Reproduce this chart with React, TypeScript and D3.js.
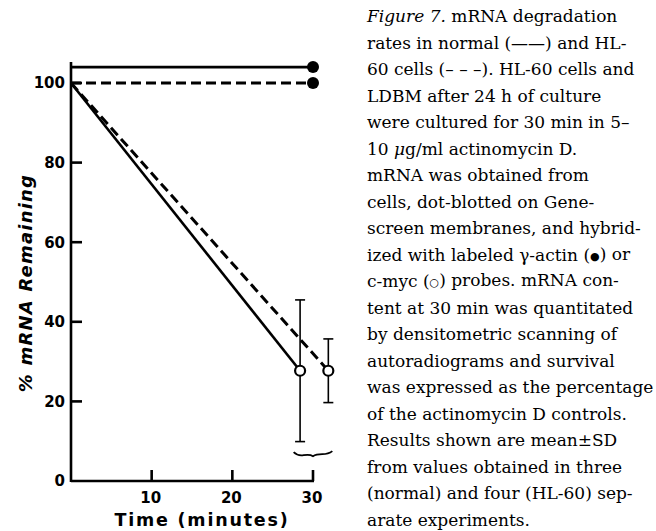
import React, { useEffect, useRef } from "react";
import * as d3 from "d3";

// axis ticks
const xTicks = [10, 20, 30];
const yTicks = [0, 20, 40, 60, 80, 100];

// gamma-actin (filled circles): normal (solid) and HL-60 (dashed)
const actinTimes = [0, 30];
const actinNormal = [104, 104];
const actinHL60 = [100, 100];

// c-myc (open circles), end points drawn a little apart around 30 min
const mycTimesNormal = [0, 28.4];
const mycNormal = [100, 27.7];
const mycSDNormal = [0, 17.8];
const mycTimesHL60 = [0, 31.9];
const mycHL60 = [100, 27.7];
const mycSDHL60 = [0, 8];

// "i:" = italic, "s:" = small symbol
const caption: string[][] = [
  ["i:Figure 7.", " mRNA degradation"],
  ["rates in normal (\u2014\u2014) and HL-"],
  ["60 cells (\u2013 \u2013 \u2013). HL-60 cells and"],
  ["LDBM after 24 h of culture"],
  ["were cultured for 30 min in 5\u2013"],
  ["10 ", "i:\u03bc", "g/ml actinomycin D."],
  ["mRNA was obtained from"],
  ["cells, dot-blotted on Gene-"],
  ["screen membranes, and hybrid-"],
  ["ized with labeled \u03b3-actin (", "s:\u25cf", ") or"],
  ["c-myc (", "s:\u25cb", ") probes. mRNA con-"],
  ["tent at 30 min was quantitated"],
  ["by densitometric scanning of"],
  ["autoradiograms and survival"],
  ["was expressed as the percentage"],
  ["of the actinomycin D controls."],
  ["Results shown are mean\u00b1SD"],
  ["from values obtained in three"],
  ["(normal) and four (HL-60) sep-"],
  ["arate experiments."],
];

const W = 656;
const H = 531;

export default function App() {
  const ref = useRef<SVGSVGElement>(null);

  useEffect(() => {
    const svg = d3.select(ref.current);
    svg.selectAll("*").remove();

    const x = d3.scaleLinear().domain([0, 30]).range([71, 313]);
    const y = d3.scaleLinear().domain([0, 100]).range([481, 83]);
    const yTop = 105.3;

    const g = svg.append("g");

    // axes
    g.append("line")
      .attr("x1", x(0)).attr("x2", x(0))
      .attr("y1", y(0) + 1).attr("y2", y(yTop))
      .attr("stroke", "#000").attr("stroke-width", 2.6);
    g.append("line")
      .attr("x1", x(0)).attr("x2", x(30) + 1)
      .attr("y1", y(0)).attr("y2", y(0))
      .attr("stroke", "#000").attr("stroke-width", 2.6);

    g.selectAll(".xt")
      .data(xTicks)
      .enter()
      .append("line")
      .attr("x1", (d) => x(d)).attr("x2", (d) => x(d))
      .attr("y1", y(0)).attr("y2", y(0) - 11)
      .attr("stroke", "#000").attr("stroke-width", 2.6);
    g.selectAll(".xl")
      .data(xTicks)
      .enter()
      .append("text")
      .attr("x", (d) => x(d) - 1)
      .attr("y", 503)
      .attr("text-anchor", "middle")
      .attr("font-family", "DejaVu Sans")
      .attr("font-weight", "bold")
      .attr("font-size", 15)
      .text((d) => d);

    g.selectAll(".yt")
      .data(yTicks.filter((d) => d > 0))
      .enter()
      .append("line")
      .attr("x1", x(0)).attr("x2", x(0) + 11)
      .attr("y1", (d) => y(d)).attr("y2", (d) => y(d))
      .attr("stroke", "#000").attr("stroke-width", 2.6);
    g.selectAll(".yl")
      .data(yTicks)
      .enter()
      .append("text")
      .attr("x", 65)
      .attr("y", (d) => y(d))
      .attr("dy", "0.36em")
      .attr("text-anchor", "end")
      .attr("font-family", "DejaVu Sans")
      .attr("font-weight", "bold")
      .attr("font-size", 15)
      .text((d) => d);

    // axis titles
    g.append("text")
      .attr("x", 202)
      .attr("y", 526)
      .attr("text-anchor", "middle")
      .attr("font-family", "DejaVu Sans")
      .attr("font-weight", "bold")
      .attr("font-size", 17.5)
      .attr("letter-spacing", 1.8)
      .text("Time (minutes)");
    g.append("text")
      .attr("transform", "translate(32,283) rotate(-90)")
      .attr("text-anchor", "middle")
      .attr("font-family", "DejaVu Sans")
      .attr("font-weight", "bold")
      .attr("font-style", "italic")
      .attr("font-size", 18)
      .attr("letter-spacing", 1.2)
      .text("% mRNA Remaining");

    const line = d3
      .line<[number, number]>()
      .x((d) => x(d[0]))
      .y((d) => y(d[1]));

    const series = [
      { t: actinTimes, v: actinNormal, dash: null },
      { t: actinTimes, v: actinHL60, dash: "10,5" },
      { t: mycTimesNormal, v: mycNormal, dash: null },
      { t: mycTimesHL60, v: mycHL60, dash: "10,5" },
    ];
    series.forEach((s) => {
      g.append("path")
        .datum(s.t.map((t, i) => [t, s.v[i]] as [number, number]))
        .attr("d", line)
        .attr("fill", "none")
        .attr("stroke", "#000")
        .attr("stroke-width", s.dash ? 3 : 2.6)
        .attr("stroke-dasharray", s.dash);
    });

    // error bars for c-myc at the last time point
    const bars = [
      { t: mycTimesNormal[1], m: mycNormal[1], sd: mycSDNormal[1] },
      { t: mycTimesHL60[1], m: mycHL60[1], sd: mycSDHL60[1] },
    ];
    bars.forEach((b) => {
      const eb = g.append("g").attr("stroke", "#000").attr("stroke-width", 1.6);
      eb.append("line")
        .attr("x1", x(b.t)).attr("x2", x(b.t))
        .attr("y1", y(b.m + b.sd)).attr("y2", y(b.m - b.sd));
      [b.m + b.sd, b.m - b.sd].forEach((v) => {
        eb.append("line")
          .attr("x1", x(b.t) - 5).attr("x2", x(b.t) + 5)
          .attr("y1", y(v)).attr("y2", y(v));
      });
    });

    // brace joining the two offset points
    const bx0 = x(27.6);
    const bx1 = x(32.4);
    const bm = (bx0 + bx1) / 2;
    const by = y(7);
    g.append("path")
      .attr(
        "d",
        `M${bx0},${by - 1} Q${bx0 + 4},${by + 3} ${bx0 + 10},${by + 2} Q${bm - 3},${by + 1} ${bm},${by + 3} Q${bm + 3},${by + 1} ${bx1 - 10},${by + 1} Q${bx1 - 4},${by + 1} ${bx1},${by - 2}`
      )
      .attr("fill", "none")
      .attr("stroke", "#000")
      .attr("stroke-width", 1.8);

    // points
    g.selectAll(".filled")
      .data([actinNormal[1], actinHL60[1]])
      .enter()
      .append("circle")
      .attr("cx", x(actinTimes[1]))
      .attr("cy", (d) => y(d))
      .attr("r", 6)
      .attr("fill", "#000");
    g.selectAll(".open")
      .data(bars)
      .enter()
      .append("circle")
      .attr("cx", (d) => x(d.t))
      .attr("cy", (d) => y(d.m))
      .attr("r", 5)
      .attr("fill", "#fff")
      .attr("stroke", "#000")
      .attr("stroke-width", 2.2);

    // caption
    const cap = svg
      .append("g")
      .attr("font-family", "DejaVu Serif")
      .attr("font-size", 17);
    caption.forEach((parts, i) => {
      const t = cap.append("text").attr("x", 367).attr("y", 22 + i * 26.5);
      parts.forEach((p) => {
        const italic = p.startsWith("i:");
        const small = p.startsWith("s:");
        t.append("tspan")
          .attr("font-style", italic ? "italic" : null)
          .attr("font-size", small ? 11 : null)
          .attr("dy", small ? -1 : null)
          .text(italic || small ? p.slice(2) : p);
        if (small) t.append("tspan").attr("dy", 1).text("");
      });
    });
  }, []);

  return (
    <svg
      ref={ref}
      width={W}
      height={H}
      style={{ position: "absolute", left: 0, top: 0, background: "#fff" }}
    />
  );
}
